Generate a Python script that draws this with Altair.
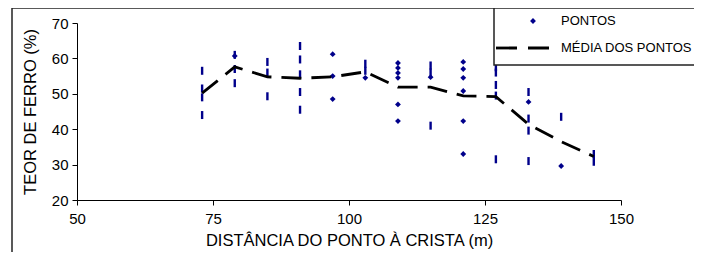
import altair as alt
import pandas as pd

# Individual sample points drawn as diamonds
diam_x = [79, 97, 97, 97, 103, 109, 109, 109, 109, 109, 109, 115,
          121, 121, 121, 121, 121, 121, 133, 139]
diam_y = [60.7, 61.2, 55.0, 48.5, 54.5, 58.7, 57.3, 55.9, 54.5, 47.0, 42.3, 54.7,
          59.0, 57.0, 54.5, 50.8, 42.3, 33.0, 47.7, 29.6]

# Individual sample points drawn as short vertical dashes
dash_x = [73, 73, 73, 73, 79, 79, 79, 85, 85, 85, 91, 91, 91, 91, 91,
          103, 103, 115, 115, 115, 127, 127, 127, 127, 127,
          133, 133, 133, 133, 139, 145, 145]
dash_y = [56.5, 51.5, 49.0, 44.0, 61.0, 57.0, 53.0, 59.0, 56.0, 49.3, 63.5, 59.7, 55.5, 50.5, 45.5,
          58.5, 56.5, 58.0, 56.0, 41.0, 57.5, 56.0, 52.5, 49.5, 31.5,
          50.5, 43.0, 39.6, 31.0, 43.5, 33.0, 30.8]

# Mean of points at each distance
mean_x = [73, 79, 85, 91, 97, 103, 109, 115, 121, 127, 133, 139, 145]
mean_y = [50.2, 57.6, 54.8, 54.4, 54.8, 56.2, 51.9, 51.9, 49.4, 49.2, 41.4, 36.5, 32.3]

x_ticks = [50, 75, 100, 125, 150]
y_ticks = [20, 30, 40, 50, 60, 70]
x_title = "DISTÂNCIA DO PONTO À CRISTA (m)"
y_title = "TEOR DE FERRO (%)"
legend_labels = ["PONTOS", "MÉDIA DOS PONTOS"]

NAVY = "#00008B"
FONT = "Liberation Sans"

df_d = pd.DataFrame({"x": diam_x, "y": diam_y})
df_t = pd.DataFrame({"x": dash_x, "y": dash_y})
df_m = pd.DataFrame({"x": mean_x, "y": mean_y})
one = pd.DataFrame({"a": [0]})

xs = alt.Scale(domain=[50, 150], nice=False, zero=False)
ys = alt.Scale(domain=[20, 70], nice=False, zero=False)
xax = alt.Axis(values=x_ticks, title=x_title, titlePadding=6, labelPadding=6,
               labelOverlap=False, labelFlush=False)
yax = alt.Axis(values=y_ticks, title=y_title, titlePadding=13, labelPadding=4,
               labelOverlap=False, labelFlush=False)
X = alt.X("x:Q", scale=xs, axis=xax)
Y = alt.Y("y:Q", scale=ys, axis=yax)

frame_top = alt.Chart(one).mark_rule(color="#222222", strokeWidth=1.5).encode(
    x=alt.value(-65), x2=alt.value(700), y=alt.value(-15))
frame_left = alt.Chart(one).mark_rule(color="#222222", strokeWidth=1.5).encode(
    x=alt.value(-65), y=alt.value(-15), y2=alt.value(300))

ticks = alt.Chart(df_t).mark_tick(orient="vertical", size=8, thickness=2.4, color=NAVY, opacity=1).encode(x=X, y=Y)
diamonds = alt.Chart(df_d).mark_point(shape="diamond", filled=True, size=34, color=NAVY, opacity=1).encode(x=X, y=Y)
mean_line = alt.Chart(df_m).mark_line(color="black", strokeWidth=2.8, strokeDash=[20, 10]).encode(x=X, y=Y)

leg_box = alt.Chart(one).mark_rect(fill="white", stroke="#222222", strokeWidth=1.5).encode(
    x=alt.value(417), x2=alt.value(720), y=alt.value(-15), y2=alt.value(42))
leg_pt = alt.Chart(one).mark_point(shape="diamond", filled=True, size=34, color=NAVY, opacity=1).encode(
    x=alt.value(456), y=alt.value(-2))
leg_ln = alt.Chart(one).mark_rule(color="black", strokeWidth=2.8, strokeDash=[21, 11]).encode(
    x=alt.value(419), x2=alt.value(472), y=alt.value(25))
leg_t1 = alt.Chart(one).mark_text(align="left", baseline="middle", font=FONT, fontSize=13, color="black").encode(
    x=alt.value(484), y=alt.value(-2), text=alt.value(legend_labels[0]))
leg_t2 = alt.Chart(one).mark_text(align="left", baseline="middle", font=FONT, fontSize=13, color="black").encode(
    x=alt.value(484), y=alt.value(25), text=alt.value(legend_labels[1]))

chart = alt.layer(
    frame_top, frame_left, ticks, diamonds, mean_line,
    leg_box, leg_pt, leg_ln, leg_t1, leg_t2
).properties(
    width=544, height=177,
    autosize=alt.AutoSizeParams(type="none"),
    padding={"left": 69, "top": 15, "right": 73, "bottom": 52},
).configure_view(stroke=None).configure_axis(
    grid=False, domainColor="black", tickColor="black", tickSize=5,
    labelColor="black", titleColor="black",
    labelFont=FONT, titleFont=FONT, labelFontSize=15, titleFontSize=16.5,
    titleFontWeight="normal",
)

chart.save("out.html", embed_options={"renderer": "svg", "actions": False})
